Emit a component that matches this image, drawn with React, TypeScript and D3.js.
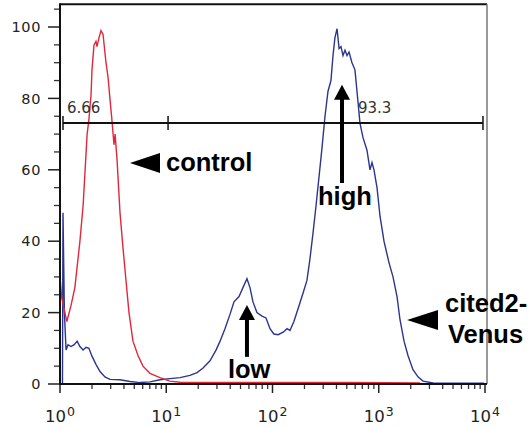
import React from "react";
import * as d3 from "d3";

// Control (red) histogram: fluorescence value, % of max
const controlX = [1.0, 1.04, 1.16, 1.27, 1.38, 1.54, 1.65, 1.8, 1.87, 1.96, 2.0, 2.09, 2.18, 2.23, 2.33, 2.43, 2.54, 2.71, 2.83, 2.95, 3.08, 3.22, 3.3, 3.44, 3.67, 3.92, 4.09, 4.46, 4.86, 5.42, 6.04, 7.03, 8.73, 10.8, 13.5, 61, 537, 2450];
const controlY = [30, 24, 17.5, 22, 27, 40, 50, 70, 74, 81, 88, 95, 96, 94.5, 97, 99, 98, 90, 86, 80, 74, 67, 70, 63, 48, 38, 32, 20, 12, 8, 5, 3, 1.8, 0.8, 0.5, 0.4, 0.4, 0.3];

// cited2-Venus (blue) histogram
const venusX = [1.055, 1.067, 1.1, 1.14, 1.19, 1.27, 1.36, 1.45, 1.54, 1.65, 1.76, 1.87, 2.0, 2.18, 2.38, 2.65, 2.95, 3.67, 4.56, 5.66, 7.03, 8.73, 10.8, 13.5, 16.7, 19.5, 22.2, 25.8, 29.4, 32.1, 35.7, 39.8, 43.4, 48.4, 52.7, 57.5, 61.4, 65.5, 71.4, 79.6, 86.9, 94.7, 103, 113, 126, 137, 146, 159, 178, 194, 211, 225, 240, 257, 274, 292, 312, 333, 355, 371, 387, 405, 423, 441, 461, 481, 503, 525, 560, 597, 624, 666, 711, 775, 827, 864, 902, 963, 1028, 1120, 1248, 1362, 1486, 1585, 1730, 1884, 2100, 2340, 2610, 3240, 9780];
const venusY = [0, 48, 20, 9.5, 11, 10.5, 11, 12, 10.5, 9.5, 10.3, 10, 7.8, 5.5, 3.5, 2, 1.3, 1.2, 0.7, 0.4, 0.6, 1.2, 1.5, 1.8, 2.4, 3.2, 4.5, 6.5, 9.5, 12, 15.5, 19.5, 23, 24.5, 27, 29.5, 27, 23, 20, 19, 18.5, 15.5, 14, 13.8, 14.5, 15.5, 15, 17.5, 22, 25.5, 29, 35, 42, 50, 58, 66, 75, 82, 85, 92, 97, 99.5, 94, 94.5, 92, 93.5, 92, 93, 90, 88, 82, 73, 69, 65.5, 60, 62, 60, 55, 47, 40, 34, 30, 24.5, 18, 12, 8, 4, 2, 0.8, 0.3, 0.2];

const yTicks = [0, 20, 40, 60, 80, 100];
const yMinorTicks = [5, 10, 15, 25, 30, 35, 45, 50, 55, 65, 70, 75, 85, 90, 95, 105];
const xDecades = [0, 1, 2, 3, 4];

// Gate (bisector) in data units
const gateLeft = 1.067;
const gateMid = 10.4;
const gateRight = 9570;
const gateLevel = 73.1;
const gateLabels = ["6.66", "93.3"];

const W = 529;
const H = 429;

const x = d3.scaleLog().domain([1, 1e4]).range([60, 485]);
const y = d3.scaleLinear().domain([0, 100]).range([384, 27]);

const line = d3
  .line<[number, number]>()
  .x((d) => x(d[0]))
  .y((d) => y(d[1]));

const controlPts: [number, number][] = controlX.map((v, i) => [v, controlY[i]]);
const venusPts: [number, number][] = venusX.map((v, i) => [v, venusY[i]]);

const bold = "'Liberation Sans', Arial, Helvetica, sans-serif";
const tickFont = "'DejaVu Sans', Verdana, sans-serif";

export default function App() {
  const left = x(1);
  const right = x(1e4) + 2;
  const top = y(106.4);
  const bottom = y(0);

  const minorX: number[] = [];
  for (let d = 0; d < 4; d++) {
    for (let m = 2; m <= 9; m++) minorX.push(m * Math.pow(10, d));
  }

  // annotation anchors (data units)
  const ctrl = { x: x(4.56), y: y(61.9) };
  const ven = { x: x(1845), y: y(17.9) };
  const high = { x: x(451), tip: y(83.8), tail: y(56.3) };
  const low = { x: x(57.5), tip: y(22.1), tail: y(7.6) };
  const gy = y(gateLevel);

  return (
    <svg
      width={W}
      height={H}
      style={{ position: "absolute", left: 0, top: 0, background: "#fff" }}
    >
      <rect x={0} y={0} width={W} height={H} fill="#fff" />
      {/* frame */}
      <line x1={left} x2={right} y1={top} y2={top} stroke="#111" strokeWidth={2} />
      <line x1={right} x2={right} y1={top} y2={bottom} stroke="#777" strokeWidth={1.5} />

      {/* y ticks */}
      {yTicks.map((t) => (
        <g key={"yt" + t}>
          <line x1={48} x2={left} y1={y(t)} y2={y(t)} stroke="#222" strokeWidth={1.5} />
          <text
            x={41}
            y={y(t)}
            dy="0.36em"
            textAnchor="end"
            fontFamily={tickFont}
            fontSize={14.5}
            letterSpacing={0.6}
            fill="#222"
          >
            {t}
          </text>
        </g>
      ))}
      {yMinorTicks.map((t) => (
        <line key={"ym" + t} x1={54} x2={left} y1={y(t)} y2={y(t)} stroke="#333" strokeWidth={1.3} />
      ))}

      {/* x ticks */}
      {xDecades.map((d) => (
        <g key={"xd" + d}>
          <line x1={x(Math.pow(10, d))} x2={x(Math.pow(10, d))} y1={bottom} y2={bottom + 9} stroke="#222" strokeWidth={1.5} />
          <text
            x={x(Math.pow(10, d))}
            y={422}
            textAnchor="middle"
            fontFamily={tickFont}
            fill="#222"
          >
            <tspan fontSize={16.5}>10</tspan>
            <tspan fontSize={12.5} dy={-6} dx={1}>
              {d}
            </tspan>
          </text>
        </g>
      ))}
      {minorX.map((v) => (
        <line key={"xm" + v} x1={x(v)} x2={x(v)} y1={bottom} y2={bottom + 5} stroke="#333" strokeWidth={1.3} />
      ))}

      {/* curves */}
      <path d={line(venusPts) || ""} fill="none" stroke="#2b3590" strokeWidth={1.4} />
      <path d={line(controlPts) || ""} fill="none" stroke="#e0283c" strokeWidth={1.4} />

      {/* axes */}
      <line x1={left} x2={left} y1={top - 1} y2={bottom + 1} stroke="#111" strokeWidth={2} />
      <line x1={left} x2={right} y1={bottom} y2={bottom} stroke="#111" strokeWidth={2.2} />

      {/* gate */}
      <line x1={x(gateLeft)} x2={x(gateRight)} y1={gy} y2={gy} stroke="#111" strokeWidth={2} />
      {[gateLeft, gateMid, gateRight].map((g) => (
        <line key={"g" + g} x1={x(g)} x2={x(g)} y1={gy - 7} y2={gy + 7} stroke="#111" strokeWidth={1.5} />
      ))}
      <text x={x(gateLeft) + 4} y={gy - 10} fontFamily={tickFont} fontSize={15} fill="#333">
        {gateLabels[0]}
      </text>
      <text x={358} y={gy - 10} fontFamily={tickFont} fontSize={15} fill="#333">
        {gateLabels[1]}
      </text>

      {/* control annotation */}
      <path
        d={`M${ctrl.x},${ctrl.y} L${ctrl.x + 30},${ctrl.y - 10} L${ctrl.x + 30},${ctrl.y + 10} Z`}
        fill="#000"
      />
      <text x={ctrl.x + 36} y={ctrl.y + 8} fontFamily={bold} fontWeight="bold" fontSize={25.5} fill="#000">
        control
      </text>

      {/* high arrow */}
      <line x1={high.x} x2={high.x} y1={high.tail} y2={high.tip + 12} stroke="#000" strokeWidth={4} />
      <path
        d={`M${high.x},${high.tip} L${high.x - 8},${high.tip + 15} L${high.x + 8},${high.tip + 15} Z`}
        fill="#000"
      />
      <text x={high.x - 24} y={205} fontFamily={bold} fontWeight="bold" fontSize={25.5} fill="#000">
        high
      </text>

      {/* low arrow */}
      <line x1={low.x} x2={low.x} y1={low.tail} y2={low.tip + 12} stroke="#000" strokeWidth={4} />
      <path
        d={`M${low.x},${low.tip} L${low.x - 8},${low.tip + 15} L${low.x + 8},${low.tip + 15} Z`}
        fill="#000"
      />
      <text x={low.x - 19} y={378} fontFamily={bold} fontWeight="bold" fontSize={25.5} fill="#000">
        low
      </text>

      {/* cited2-Venus annotation */}
      <path
        d={`M${ven.x},${ven.y} L${ven.x + 31},${ven.y - 10} L${ven.x + 31},${ven.y + 10} Z`}
        fill="#000"
      />
      <text x={ven.x + 38} y={ven.y - 8} fontFamily={bold} fontWeight="bold" fontSize={25.5} fill="#000">
        cited2-
      </text>
      <text x={ven.x + 41} y={ven.y + 23} fontFamily={bold} fontWeight="bold" fontSize={25.5} fill="#000">
        Venus
      </text>
    </svg>
  );
}
